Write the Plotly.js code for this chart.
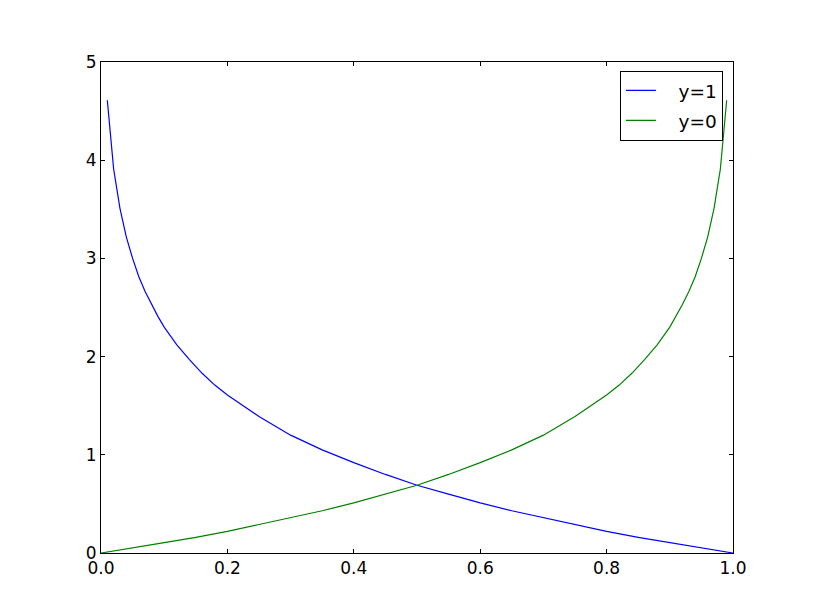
<!DOCTYPE html>
<html>
<head>
<meta charset="utf-8">
<script src="https://cdn.plot.ly/plotly-3.0.1.min.js"></script>
<style>html,body{margin:0;padding:0;background:#fff;}#chart{width:815px;height:615px;}</style>
</head>
<body>
<div id="chart"></div>
<script>
// values
const xBlue = [0.01, 0.02, 0.03, 0.04, 0.05, 0.06, 0.07, 0.08, 0.09, 0.10, 0.12, 0.14, 0.16, 0.18, 0.20, 0.25, 0.30, 0.35, 0.40, 0.45, 0.50, 0.55, 0.60, 0.65, 0.70, 0.75, 0.80, 0.85, 0.90, 0.95, 1.00];
const yBlue = [4.61, 3.91, 3.51, 3.22, 3.00, 2.81, 2.66, 2.53, 2.41, 2.30, 2.12, 1.97, 1.83, 1.71, 1.61, 1.39, 1.20, 1.05, 0.92, 0.80, 0.69, 0.60, 0.51, 0.43, 0.36, 0.29, 0.22, 0.16, 0.105, 0.05, 0.0];
const xGreen = [0.00, 0.05, 0.10, 0.15, 0.20, 0.25, 0.30, 0.35, 0.40, 0.45, 0.50, 0.55, 0.60, 0.65, 0.70, 0.75, 0.80, 0.82, 0.84, 0.86, 0.88, 0.90, 0.91, 0.92, 0.93, 0.94, 0.95, 0.96, 0.97, 0.98, 0.99];
const yGreen = [0.0, 0.05, 0.105, 0.16, 0.22, 0.29, 0.36, 0.43, 0.51, 0.60, 0.69, 0.80, 0.92, 1.05, 1.20, 1.39, 1.61, 1.71, 1.83, 1.97, 2.12, 2.30, 2.41, 2.53, 2.66, 2.81, 3.00, 3.22, 3.51, 3.91, 4.61];
const seriesNames = ["y=1", "y=0"];
const xTicks = [0.0, 0.2, 0.4, 0.6, 0.8, 1.0];
const yTicks = [0, 1, 2, 3, 4, 5];

const font = {family: "DejaVu Sans", size: 17, color: "#000"};
const legendFont = {family: "DejaVu Sans", size: 18.5, color: "#000"};
const pad = "\u00a0\u00a0\u00a0";
const traces = [
  {x: xBlue, y: yBlue, name: pad + seriesNames[0], legendgroup: "a", mode: "lines", line: {color: "#0000ff", width: 1.2}},
  {x: xGreen, y: yGreen, name: pad + seriesNames[1], legendgroup: "b", mode: "lines", line: {color: "#008000", width: 1.2}}
];
const axisCommon = {
  showgrid: false, zeroline: false, showline: true, linecolor: "#000", linewidth: 1,
  mirror: "ticks", ticks: "inside", ticklen: 4, tickwidth: 1, tickcolor: "#000",
  tickfont: font
};
const layout = {
  width: 815, height: 615,
  margin: {l: 101, r: 82, t: 62, b: 62},
  paper_bgcolor: "#fff", plot_bgcolor: "#fff",
  font: font,
  showlegend: true,
  legend: {x: 0.984, y: 0.982, xanchor: "right", yanchor: "top", bordercolor: "#000", borderwidth: 1, bgcolor: "#fff", font: legendFont, tracegroupgap: 3, itemwidth: 30},
  xaxis: Object.assign({}, axisCommon, {range: [0, 1], tickvals: xTicks, ticktext: xTicks.map(v => v.toFixed(1)), ticklabelstandoff: 0}),
  yaxis: Object.assign({}, axisCommon, {range: [0, 5], tickvals: yTicks, ticktext: yTicks.map(String), ticklabelstandoff: 0})
};
Plotly.newPlot("chart", traces, layout, {displayModeBar: false, staticPlot: true});
</script>
</body>
</html>
